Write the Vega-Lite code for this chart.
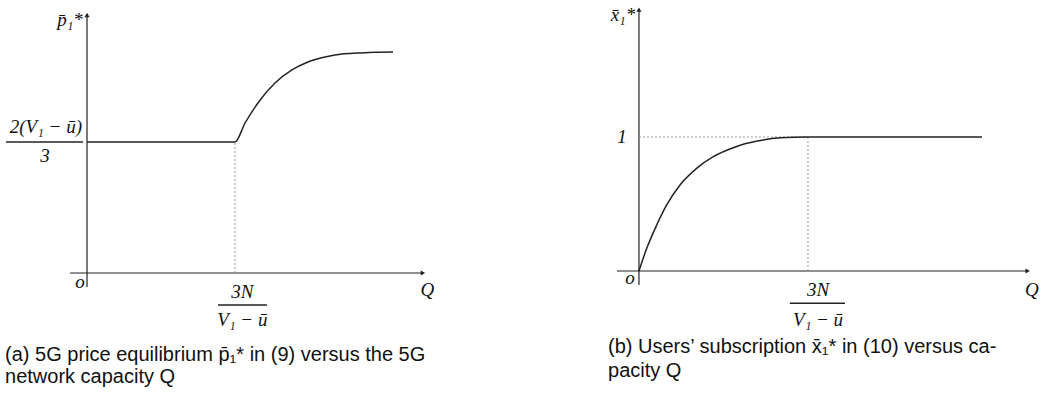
{
  "$schema": "https://vega.github.io/schema/vega-lite/v6.json",
  "padding": 0,
  "spacing": 0,
  "background": "white",
  "config": {"view": {"stroke": null}},
  "datasets": {
    "axesL": [{"x": -0.115, "y": 0, "x2": 2.27, "y2": 0}, {"x": 0, "y": -0.107, "x2": 0, "y2": 1.97}],
    "arrowsL": [{"x": 2.27, "y": 0, "dir": "right"}, {"x": 0, "y": 1.97, "dir": "up"}],
    "dottedL": [{"x": 1, "y": 0, "x2": 1, "y2": 1}],
    "curveL": [
      {"q": 0, "v": 1}, {"q": 1, "v": 1}, {"q": 1.068, "v": 1.145}, {"q": 1.155, "v": 1.298},
      {"q": 1.27, "v": 1.45}, {"q": 1.385, "v": 1.55}, {"q": 1.493, "v": 1.611}, {"q": 1.608, "v": 1.649},
      {"q": 1.723, "v": 1.672}, {"q": 1.831, "v": 1.679}, {"q": 1.946, "v": 1.685}, {"q": 2.068, "v": 1.687}
    ],
    "fracL": [{"x": -0.547, "x2": -0.027, "y": 1, "y2": 1}, {"x": 0.885, "x2": 1.216, "y": -0.244, "y2": -0.244}],
    "labelsL": [
      {"x": -0.278, "y": 1.115, "label": "2(V₁ − ū)"},
      {"x": -0.284, "y": 0.895, "label": "3"},
      {"x": -0.115, "y": 1.93, "label": "p̄₁*"},
      {"x": -0.047, "y": -0.069, "label": "o"},
      {"x": 1.05, "y": -0.145, "label": "3N"},
      {"x": 1.05, "y": -0.36, "label": "V₁ − ū"},
      {"x": 2.3, "y": -0.13, "label": "Q"}
    ],
    "captionL": [
      {"x": -0.554, "y": -0.672, "label": "(a) 5G price equilibrium p̄₁* in (9) versus the 5G"},
      {"x": -0.554, "y": -0.84, "label": "network capacity Q"}
    ],
    "axesR": [{"x": -0.13, "y": 0, "x2": 2.3, "y2": 0}, {"x": 0, "y": -0.104, "x2": 0, "y2": 1.95}],
    "arrowsR": [{"x": 2.3, "y": 0, "dir": "right"}, {"x": 0, "y": 1.95, "dir": "up"}],
    "dottedR": [{"x": 0, "y": 1, "x2": 1, "y2": 1}, {"x": 1, "y": 0, "x2": 1, "y2": 1}],
    "curveR": [
      {"q": 0, "v": 0}, {"q": 0.046, "v": 0.169}, {"q": 0.105, "v": 0.343}, {"q": 0.164, "v": 0.493},
      {"q": 0.243, "v": 0.642}, {"q": 0.341, "v": 0.766}, {"q": 0.44, "v": 0.853}, {"q": 0.538, "v": 0.91},
      {"q": 0.637, "v": 0.953}, {"q": 0.736, "v": 0.978}, {"q": 0.834, "v": 0.995}, {"q": 1, "v": 1},
      {"q": 2.03, "v": 1}
    ],
    "fracR": [{"x": 0.893, "x2": 1.219, "y": -0.24, "y2": -0.24}],
    "labelsR": [
      {"x": -0.1, "y": 1.0, "label": "1"},
      {"x": -0.095, "y": 1.91, "label": "x̄₁*"},
      {"x": -0.053, "y": -0.052, "label": "o"},
      {"x": 1.06, "y": -0.14, "label": "3N"},
      {"x": 1.06, "y": -0.366, "label": "V₁ − ū"},
      {"x": 2.325, "y": -0.14, "label": "Q"}
    ],
    "captionR": [
      {"x": -0.183, "y": -0.612, "label": "(b) Users’ subscription x̄₁* in (10) versus ca-"},
      {"x": -0.183, "y": -0.791, "label": "pacity Q"}
    ]
  },
  "hconcat": [
    {
      "width": 520,
      "height": 399,
      "layer": [
        {
          "data": {"name": "axesL"},
          "mark": {"type": "rule", "color": "#222", "strokeWidth": 1.2},
          "encoding": {
            "x": {"field": "x", "type": "quantitative", "scale": {"domain": [-0.588, 2.926], "nice": false, "zero": false}, "axis": null},
            "y": {"field": "y", "type": "quantitative", "scale": {"domain": [-0.962, 2.084], "nice": false, "zero": false}, "axis": null},
            "x2": {"field": "x2"},
            "y2": {"field": "y2"}
          }
        },
        {
          "data": {"name": "arrowsL"},
          "mark": {"type": "point", "filled": true, "color": "#222", "size": 26, "opacity": 1},
          "encoding": {
            "x": {"field": "x", "type": "quantitative"},
            "y": {"field": "y", "type": "quantitative"},
            "shape": {"field": "dir", "type": "nominal", "scale": {"domain": ["right", "up"], "range": ["triangle-right", "triangle-up"]}, "legend": null}
          }
        },
        {
          "data": {"name": "dottedL"},
          "mark": {"type": "rule", "color": "#999", "strokeWidth": 1, "strokeDash": [2, 2]},
          "encoding": {
            "x": {"field": "x", "type": "quantitative"},
            "y": {"field": "y", "type": "quantitative"},
            "x2": {"field": "x2"},
            "y2": {"field": "y2"}
          }
        },
        {
          "data": {"name": "curveL"},
          "mark": {"type": "line", "color": "#222", "strokeWidth": 1.5, "interpolate": "monotone"},
          "encoding": {
            "x": {"field": "q", "type": "quantitative"},
            "y": {"field": "v", "type": "quantitative"}
          }
        },
        {
          "data": {"name": "fracL"},
          "mark": {"type": "rule", "color": "#222", "strokeWidth": 1.5},
          "encoding": {
            "x": {"field": "x", "type": "quantitative"},
            "y": {"field": "y", "type": "quantitative"},
            "x2": {"field": "x2"},
            "y2": {"field": "y2"}
          }
        },
        {
          "data": {"name": "labelsL"},
          "mark": {"type": "text", "font": "Liberation Serif", "fontStyle": "italic", "fontSize": 19, "color": "#111", "align": "center", "baseline": "middle"},
          "encoding": {
            "x": {"field": "x", "type": "quantitative"},
            "y": {"field": "y", "type": "quantitative"},
            "text": {"field": "label", "type": "nominal"}
          }
        },
        {
          "data": {"name": "captionL"},
          "mark": {"type": "text", "font": "Liberation Sans", "fontSize": 20, "color": "#111", "align": "left", "baseline": "alphabetic"},
          "encoding": {
            "x": {"field": "x", "type": "quantitative"},
            "y": {"field": "y", "type": "quantitative"},
            "text": {"field": "label", "type": "nominal"}
          }
        }
      ]
    },
    {
      "width": 522,
      "height": 399,
      "layer": [
        {
          "data": {"name": "axesR"},
          "mark": {"type": "rule", "color": "#222", "strokeWidth": 1.2},
          "encoding": {
            "x": {"field": "x", "type": "quantitative", "scale": {"domain": [-0.704, 2.385], "nice": false, "zero": false}, "axis": null},
            "y": {"field": "y", "type": "quantitative", "scale": {"domain": [-0.955, 2.022], "nice": false, "zero": false}, "axis": null},
            "x2": {"field": "x2"},
            "y2": {"field": "y2"}
          }
        },
        {
          "data": {"name": "arrowsR"},
          "mark": {"type": "point", "filled": true, "color": "#222", "size": 26, "opacity": 1},
          "encoding": {
            "x": {"field": "x", "type": "quantitative"},
            "y": {"field": "y", "type": "quantitative"},
            "shape": {"field": "dir", "type": "nominal", "scale": {"domain": ["right", "up"], "range": ["triangle-right", "triangle-up"]}, "legend": null}
          }
        },
        {
          "data": {"name": "dottedR"},
          "mark": {"type": "rule", "color": "#999", "strokeWidth": 1, "strokeDash": [2, 2]},
          "encoding": {
            "x": {"field": "x", "type": "quantitative"},
            "y": {"field": "y", "type": "quantitative"},
            "x2": {"field": "x2"},
            "y2": {"field": "y2"}
          }
        },
        {
          "data": {"name": "curveR"},
          "mark": {"type": "line", "color": "#222", "strokeWidth": 1.5, "interpolate": "monotone"},
          "encoding": {
            "x": {"field": "q", "type": "quantitative"},
            "y": {"field": "v", "type": "quantitative"}
          }
        },
        {
          "data": {"name": "fracR"},
          "mark": {"type": "rule", "color": "#222", "strokeWidth": 1.5},
          "encoding": {
            "x": {"field": "x", "type": "quantitative"},
            "y": {"field": "y", "type": "quantitative"},
            "x2": {"field": "x2"},
            "y2": {"field": "y2"}
          }
        },
        {
          "data": {"name": "labelsR"},
          "mark": {"type": "text", "font": "Liberation Serif", "fontStyle": "italic", "fontSize": 19, "color": "#111", "align": "center", "baseline": "middle"},
          "encoding": {
            "x": {"field": "x", "type": "quantitative"},
            "y": {"field": "y", "type": "quantitative"},
            "text": {"field": "label", "type": "nominal"}
          }
        },
        {
          "data": {"name": "captionR"},
          "mark": {"type": "text", "font": "Liberation Sans", "fontSize": 20, "color": "#111", "align": "left", "baseline": "alphabetic"},
          "encoding": {
            "x": {"field": "x", "type": "quantitative"},
            "y": {"field": "y", "type": "quantitative"},
            "text": {"field": "label", "type": "nominal"}
          }
        }
      ]
    }
  ],
  "resolve": {"scale": {"x": "independent", "y": "independent", "shape": "independent"}}
}
